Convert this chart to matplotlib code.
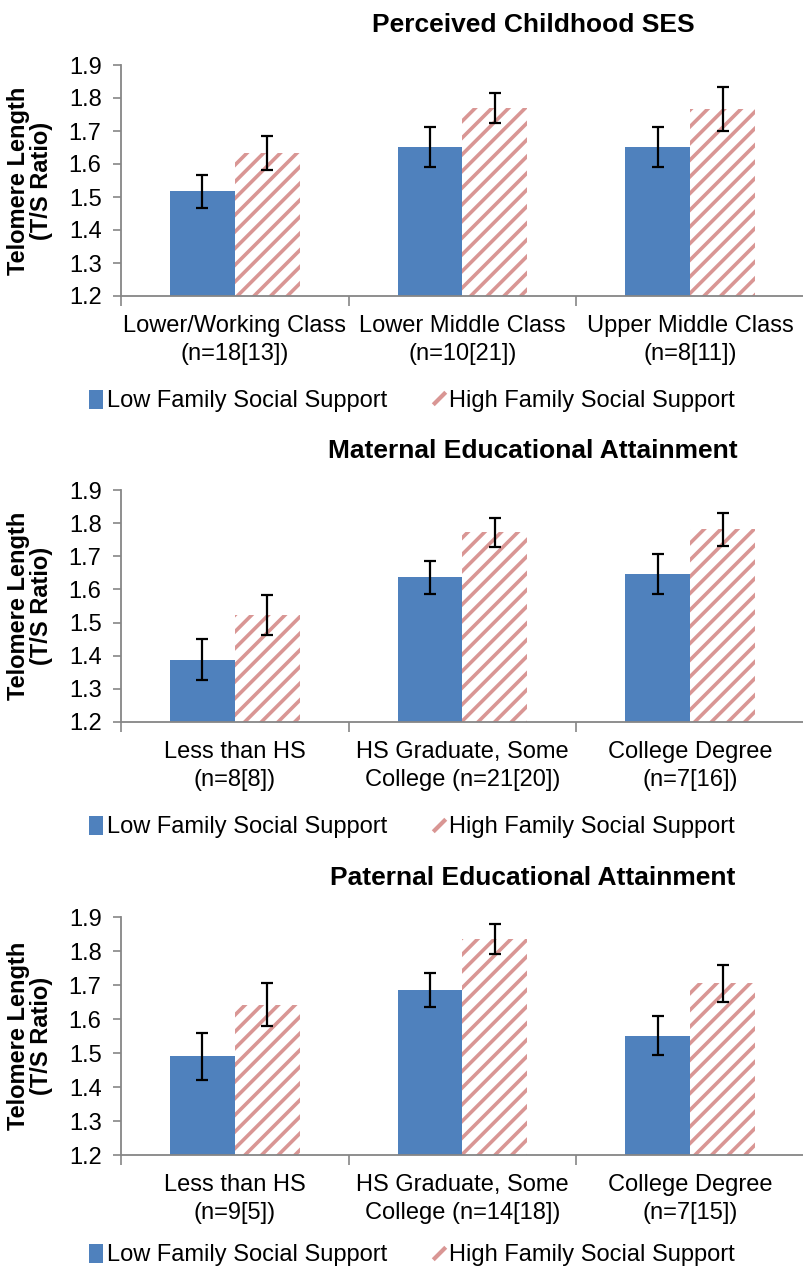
import numpy as np
import matplotlib
matplotlib.use("Agg")
import matplotlib.pyplot as plt
from matplotlib.patches import Patch
from matplotlib.lines import Line2D

plt.rcParams['font.family'] = ['Liberation Sans', 'DejaVu Sans']
plt.rcParams['hatch.linewidth'] = 2.6

# data
titles = ["Perceived Childhood SES",
          "Maternal Educational Attainment",
          "Paternal Educational Attainment"]

cats_ses = ["Lower/Working Class\n(n=18[13])", "Lower Middle Class\n(n=10[21])",
            "Upper Middle Class\n(n=8[11])"]
low_ses = [1.518, 1.652, 1.652]
low_ses_err = [0.05, 0.06, 0.06]
high_ses = [1.633, 1.769, 1.767]
high_ses_err = [0.052, 0.045, 0.066]

cats_mat = ["Less than HS\n(n=8[8])", "HS Graduate, Some\nCollege (n=21[20])",
            "College Degree\n(n=7[16])"]
low_mat = [1.388, 1.636, 1.646]
low_mat_err = [0.062, 0.05, 0.06]
high_mat = [1.524, 1.772, 1.781]
high_mat_err = [0.06, 0.044, 0.05]

cats_pat = ["Less than HS\n(n=9[5])", "HS Graduate, Some\nCollege (n=14[18])",
            "College Degree\n(n=7[15])"]
low_pat = [1.49, 1.684, 1.551]
low_pat_err = [0.068, 0.05, 0.057]
high_pat = [1.642, 1.836, 1.705]
high_pat_err = [0.064, 0.044, 0.055]

legend_labels = ["Low Family Social Support", "High Family Social Support"]
yticks = [1.2, 1.3, 1.4, 1.5, 1.6, 1.7, 1.8, 1.9]

blue = '#4F81BD'
pink = '#D99694'
grey = '#868686'

W, H = 804, 1271
fig = plt.figure(figsize=(W / 100, H / 100), dpi=100)

# (top px, bottom px, title y px, legend y px)
layout = [(65, 296, 25, 401), (490, 722, 451, 827), (917, 1155, 878, 1255)]
panels = [(cats_ses, low_ses, low_ses_err, high_ses, high_ses_err),
          (cats_mat, low_mat, low_mat_err, high_mat, high_mat_err),
          (cats_pat, low_pat, low_pat_err, high_pat, high_pat_err)]

bw = 0.285
for (top, bot, ty, ly), (cats, lo, lo_e, hi, hi_e), title in zip(layout, panels, titles):
    ax = fig.add_axes([121 / W, 1 - bot / H, (W - 121) / W, (bot - top) / H])
    x = np.arange(len(cats))
    ax.bar(x - bw / 2, lo, bw, color=blue, zorder=2)
    ax.bar(x + bw / 2, hi, bw, color='white', edgecolor=pink, hatch='//',
           linewidth=0, zorder=2)
    ax.errorbar(x - bw / 2, lo, yerr=lo_e, fmt='none', ecolor='black',
                elinewidth=1.6, capsize=4, capthick=1.6, zorder=3)
    ax.errorbar(x + bw / 2, hi, yerr=hi_e, fmt='none', ecolor='black',
                elinewidth=1.6, capsize=4, capthick=1.6, zorder=3)
    ax.set_ylim(1.2, 1.9)
    ax.set_xlim(-0.5, 2.5)
    ax.set_yticks(yticks)
    ax.set_yticklabels(['%.1f' % v for v in yticks], fontsize=17)
    ax.set_xticks([-0.5, 0.5, 1.5, 2.5])
    ax.set_xticklabels([])
    ax.set_xticks(x, minor=True)
    ax.set_xticklabels(cats, minor=True, fontsize=17, linespacing=1.35)
    ax.tick_params(axis='x', which='major', length=7, color=grey, width=1.2)
    ax.tick_params(axis='x', which='minor', length=0, pad=14)
    ax.tick_params(axis='y', length=6, color=grey, width=1.2, pad=8)
    for s in ['top', 'right']:
        ax.spines[s].set_visible(False)
    for s in ['left', 'bottom']:
        ax.spines[s].set_color(grey)
        ax.spines[s].set_linewidth(1.3)
    ax.set_ylabel("Telomere Length\n(T/S Ratio)", fontsize=17, fontweight='bold',
                  linespacing=1.05, labelpad=11)
    fig.text(533 / W, 1 - ty / H, title, fontsize=19, fontweight='bold',
             ha='center', va='center')
    handles = [Patch(facecolor=blue, edgecolor='none'),
               Line2D([], [], linestyle='none', marker=[(-1, -1), (1, 1)],
                      markersize=9, markeredgecolor=pink, markeredgewidth=3)]
    fig.legend(handles, legend_labels, loc='center', ncol=2, frameon=False,
               fontsize=17, handlelength=0.6, handleheight=0.9,
               handletextpad=0.15, columnspacing=1.9,
               bbox_to_anchor=(412 / W, 1 - ly / H))

fig.savefig('out.png', dpi=100)
